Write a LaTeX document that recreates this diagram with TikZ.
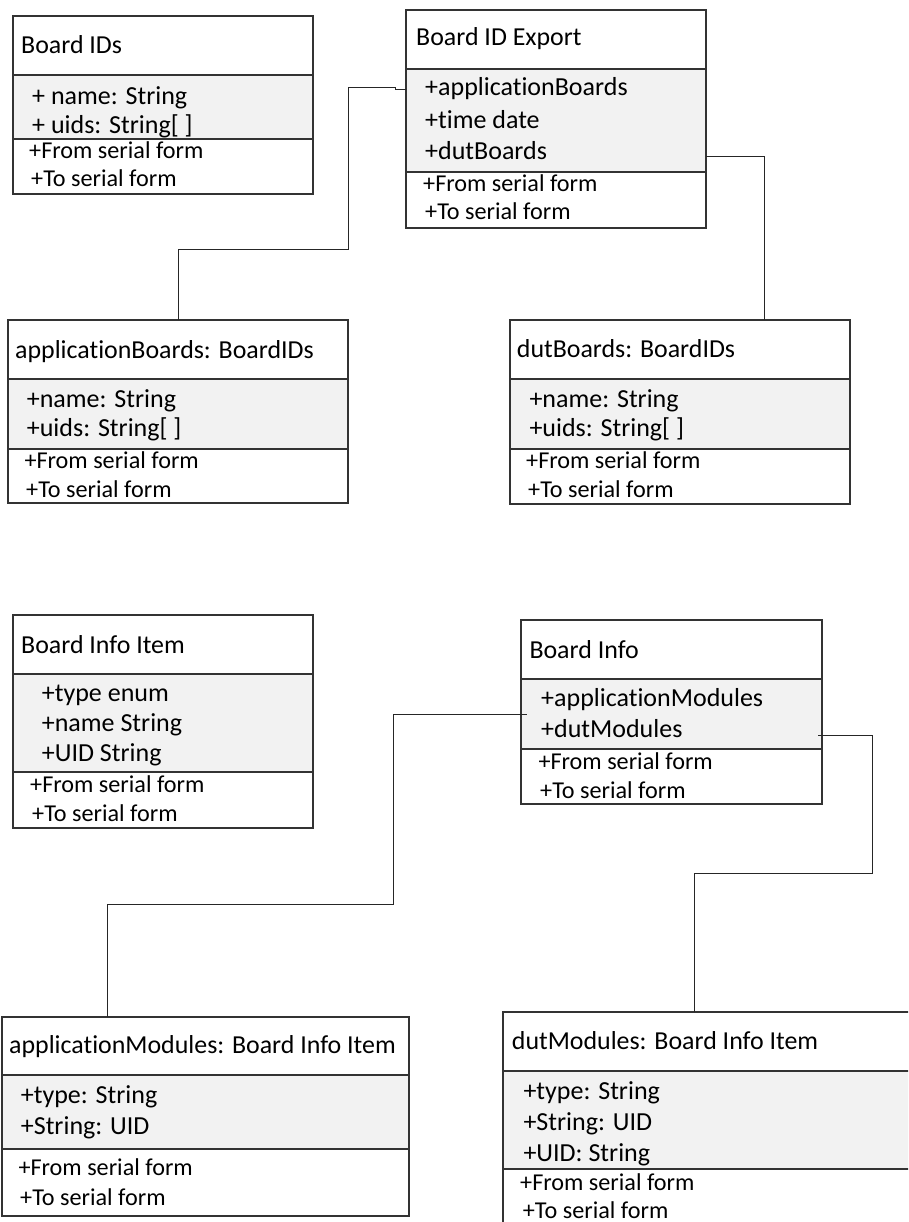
\documentclass[tikz,border=0pt]{standalone}
\usepackage{fontspec}
\setmainfont{Carlito}[Ligatures=NoCommon]
\begin{document}
\begin{tikzpicture}[x=1pt,y=-1pt,
  boxline/.style={draw=black!80,line width=1.1pt},
  attrfill/.style={fill=black!5},
  conn/.style={draw=black!85,line width=1pt},
  ctitle/.style={anchor=base west,inner sep=0pt,font=\fontsize{25.9}{31}\selectfont},
  cattr/.style={anchor=base west,inner sep=0pt,font=\fontsize{26}{31}\selectfont},
  cmeth/.style={anchor=base west,inner sep=0pt,font=\fontsize{24.2}{29}\selectfont}]
\useasboundingbox (0,0) rectangle (908,1222);
\clip (0,0) rectangle (908,1222);

% class box: name, left, top, right, first divider, second divider, bottom
\newcommand\classbox[7]{%
  \fill[attrfill] (#2,#5) rectangle (#4,#6);
  \draw[boxline] (#2,#3) rectangle (#4,#7);
  \draw[boxline] (#2,#5) -- (#4,#5) (#2,#6) -- (#4,#6);
  \coordinate (#1) at (#2,#3);}

% Board IDs
\classbox{bids}{13}{16}{313}{75}{139}{194}
\node[ctitle] (bids-t) at (21,53.7) {Board IDs};
\node[cattr] (bids-a1) at (32,105) {+ name: String};
\node[cattr] (bids-a2) at (32,133.5) {+ uids: String[ ]};
\node[cmeth] (bids-m1) at (29,158.3) {+From serial form};
\node[cmeth] (bids-m2) at (31,186.7) {+To serial form};

% Board ID Export
\classbox{bexp}{406}{10}{706}{69}{172}{228}
\node[ctitle] (bexp-t) at (416,45.7) {Board ID Export};
\node[cattr] (bexp-a1) at (425,96) {+applicationBoards};
\node[cattr] (bexp-a2) at (425,128.3) {+time date};
\node[cattr] (bexp-a3) at (425,160) {+dutBoards};
\node[cmeth] (bexp-m1) at (423,191.7) {+From serial form};
\node[cmeth] (bexp-m2) at (425,220) {+To serial form};

% applicationBoards: BoardIDs
\classbox{appb}{8}{320}{348}{379}{449}{503}
\node[ctitle] (appb-t) at (15,358.3) {applicationBoards: BoardIDs};
\node[cattr] (appb-a1) at (26.7,407.3) {+name: String};
\node[cattr] (appb-a2) at (26.7,436.7) {+uids: String[ ]};
\node[cmeth] (appb-m1) at (24.3,468.3) {+From serial form};
\node[cmeth] (appb-m2) at (26,497.7) {+To serial form};

% dutBoards: BoardIDs
\classbox{dutb}{510}{320}{850}{379}{449}{504}
\node[ctitle] (dutb-t) at (516.7,357.3) {dutBoards: BoardIDs};
\node[cattr] (dutb-a1) at (529.3,407.3) {+name: String};
\node[cattr] (dutb-a2) at (529.3,436.7) {+uids: String[ ]};
\node[cmeth] (dutb-m1) at (526,468.3) {+From serial form};
\node[cmeth] (dutb-m2) at (528,497.7) {+To serial form};

% Board Info Item
\classbox{bii}{13}{615}{313}{674}{772}{828}
\node[ctitle] (bii-t) at (21,653.3) {Board Info Item};
\node[cattr] (bii-a1) at (41.7,701.7) {+type enum};
\node[cattr] (bii-a2) at (41.7,731.7) {+name String};
\node[cattr] (bii-a3) at (41.7,761.7) {+UID String};
\node[cmeth] (bii-m1) at (30,792.7) {+From serial form};
\node[cmeth] (bii-m2) at (32,821) {+To serial form};

% Board Info
\classbox{binf}{521}{620}{822}{679}{749}{804}
\node[ctitle] (binf-t) at (529.3,658.3) {Board Info};
\node[cattr] (binf-a1) at (541,706.7) {+applicationModules};
\node[cattr] (binf-a2) at (541,737.7) {+dutModules};
\node[cmeth] (binf-m1) at (538.3,769) {+From serial form};
\node[cmeth] (binf-m2) at (540,798.3) {+To serial form};

% applicationModules: Board Info Item
\classbox{appm}{2}{1017}{409}{1075}{1149}{1216}
\node[ctitle] (appm-t) at (9,1053.3) {applicationModules: Board Info Item};
\node[cattr] (appm-a1) at (20.7,1103.3) {+type: String};
\node[cattr] (appm-a2) at (20.7,1134) {+String: UID};
\node[cmeth] (appm-m1) at (18.3,1175.7) {+From serial form};
\node[cmeth] (appm-m2) at (20,1205) {+To serial form};

% dutModules: Board Info Item
\classbox{dutm}{503}{1012}{914}{1071}{1169}{1230}
\node[ctitle] (dutm-t) at (511.7,1049.3) {dutModules: Board Info Item};
\node[cattr] (dutm-a1) at (523.3,1099.3) {+type: String};
\node[cattr] (dutm-a2) at (523.3,1130.7) {+String: UID};
\node[cattr] (dutm-a3) at (523.3,1161.7) {+UID: String};
\node[cmeth] (dutm-m1) at (520,1190) {+From serial form};
\node[cmeth] (dutm-m2) at (522.7,1218.3) {+To serial form};

% connector end points
\coordinate (bexp-l) at (406,90);
\coordinate (bexp-r) at (706,157);
\coordinate (appb-in) at (178,320);
\coordinate (dutb-in) at (764,320);
\coordinate (binf-l) at (526.7,714.7);
\coordinate (binf-r) at (818,735);
\coordinate (appm-in) at (107.7,1017);
\coordinate (dutm-in) at (694,1012);

% associations
\draw[conn] (bexp-l) -- ++(-11,0) -- ++(0,-2) -| (348,250) -| (appb-in);
\draw[conn] (bexp-r) -| (dutb-in);
\draw[conn] (binf-l) -| (393.3,904.3) -| (appm-in);
\draw[conn] (binf-r) -| (872,873) -| (dutm-in);
\end{tikzpicture}
\end{document}
